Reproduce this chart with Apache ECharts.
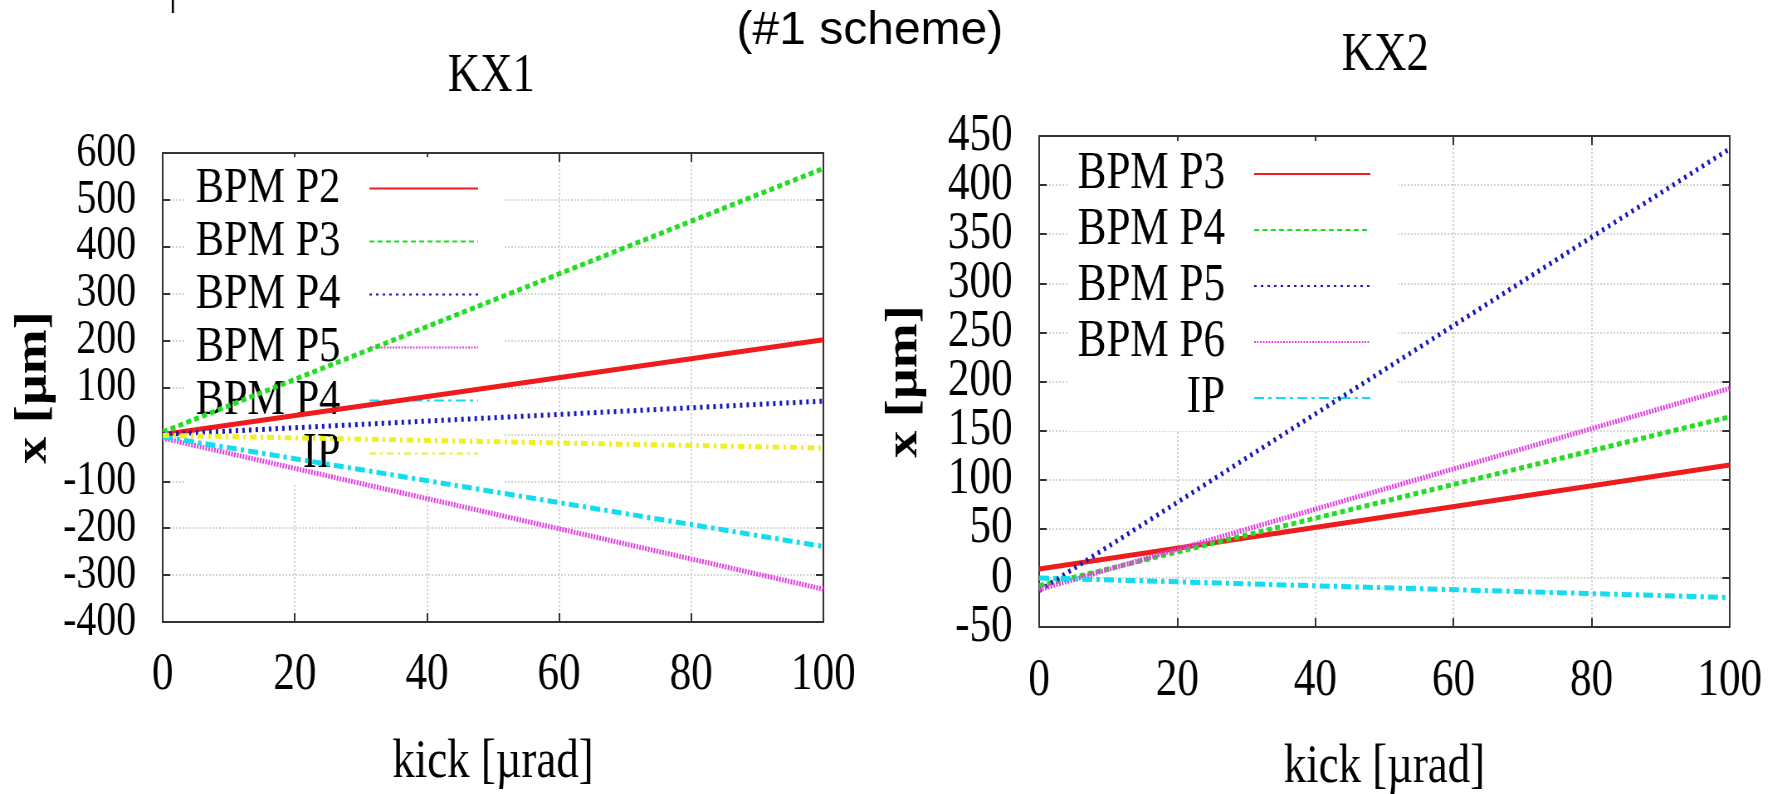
<!DOCTYPE html>
<html>
<head>
<meta charset="utf-8">
<script src="https://cdn.jsdelivr.net/npm/echarts@6/dist/echarts.min.js"></script>
<style>
  html, body { margin: 0; padding: 0; overflow: hidden; background: #fff; }
  /* the source figure is squeezed sideways, so draw wide and squeeze the canvas */
  #chart_wrap { width: 2142px; height: 794px; transform: scaleX(0.83); transform-origin: 0 0; }
</style>
</head>
<body>
<div id="chart_wrap"></div>
<script>
var kick = [0, 100];

// KX1 panel
var kx1Names = ['BPM P2', 'BPM P3', 'BPM P4', 'BPM P5', 'BPM P4', 'IP'];
var kx1P2 = [0, 202];
var kx1P3 = [5, 567];
var kx1P4 = [0, 71];
var kx1P5 = [-8, -330];
var kx1P4b = [-5, -239];
var kx1IP = [-2, -29];

// KX2 panel
var kx2Names = ['BPM P3', 'BPM P4', 'BPM P5', 'BPM P6', 'IP'];
var kx2P3 = [9, 115];
var kx2P4 = [-8, 164];
var kx2P5 = [-13, 437];
var kx2P6 = [-12, 193];
var kx2IP = [0, -20];

var chart = echarts.init(document.getElementById('chart_wrap'));
var serif = 'Liberation Serif';

var RED = '#ee1c1c', GREEN = '#22dd22', BLUE = '#1a1ab8', MAGENTA = '#e040e0', CYAN = '#12dcef', YELLOW = '#efef22';

var labelMap = {};
function mkSeries(id, label, vals, color, dash, axis) {
    labelMap[id] = label;
    return {
        id: id,
        name: id,
        type: 'line',
        xAxisIndex: axis,
        yAxisIndex: axis,
        symbol: 'none',
        data: kick.map(function (k, i) { return [k, vals[i]]; }),
        lineStyle: { color: color, width: 5, type: dash, cap: 'butt' },
        itemStyle: { color: color },
        z: 2
    };
}

var series = [
    mkSeries('a0', kx1Names[0], kx1P2, RED, 'solid', 0),
    mkSeries('a1', kx1Names[1], kx1P3, GREEN, [6, 4], 0),
    mkSeries('a2', kx1Names[2], kx1P4, BLUE, [3, 5], 0),
    mkSeries('a3', kx1Names[3], kx1P5, MAGENTA, [2, 1.5], 0),
    mkSeries('a4', kx1Names[4], kx1P4b, CYAN, [12, 5, 4, 5], 0),
    mkSeries('a5', kx1Names[5], kx1IP, YELLOW, [8, 5, 3, 5], 0),
    mkSeries('b0', kx2Names[0], kx2P3, RED, 'solid', 2),
    mkSeries('b1', kx2Names[1], kx2P4, GREEN, [6, 4], 2),
    mkSeries('b2', kx2Names[2], kx2P5, BLUE, [3, 5], 2),
    mkSeries('b3', kx2Names[3], kx2P6, MAGENTA, [2, 1.5], 2),
    mkSeries('b4', kx2Names[4], kx2IP, CYAN, [12, 5, 4, 5], 2)
];

var gridLine = { show: true, lineStyle: { color: '#c8c8c8', width: 1.5, type: [2, 2] } };
var boxLine = { show: true, onZero: false, lineStyle: { color: '#333', width: 2 } };
var tick = { inside: true, length: 9, lineStyle: { color: '#333', width: 2 } };

function xMain(grid, margin, gap) {
    return {
        type: 'value', gridIndex: grid, min: 0, max: 100, interval: 20, position: 'bottom',
        name: 'kick [µrad]', nameLocation: 'middle', nameGap: gap,
        nameTextStyle: { fontFamily: serif, fontSize: 54, color: '#000' },
        axisLine: boxLine, axisTick: tick,
        axisLabel: { fontFamily: serif, fontSize: 52, color: '#000', margin: margin,
                     showMinLabel: true, showMaxLabel: true, hideOverlap: false },
        splitLine: gridLine
    };
}
function xMirror(grid) {
    return {
        type: 'value', gridIndex: grid, min: 0, max: 100, interval: 20, position: 'top',
        axisLine: boxLine, axisTick: tick,
        axisLabel: { show: false }, splitLine: { show: false }
    };
}
function xHidden(grid) {
    return { type: 'value', gridIndex: grid, min: 0, max: 100, interval: 20, show: false };
}
// inner tick labels; the end labels come from yEnds so nothing gets culled
function yMain(grid, min, max, step, gap, fs) {
    return {
        type: 'value', gridIndex: grid, min: min, max: max, interval: step, position: 'left',
        name: 'x [µm]', nameLocation: 'middle', nameGap: gap, nameRotate: 90,
        nameTextStyle: { fontFamily: serif, fontSize: 54, fontWeight: 'bold', color: '#000' },
        axisLine: boxLine, axisTick: tick,
        axisLabel: { fontFamily: serif, fontSize: fs, color: '#000', margin: 32,
                     showMinLabel: false, showMaxLabel: false, hideOverlap: false },
        splitLine: gridLine
    };
}
function yEnds(grid, min, max, step, fs) {
    return {
        type: 'value', gridIndex: grid, min: min, max: max, interval: step, position: 'left',
        axisLine: { show: false }, axisTick: { show: false }, splitLine: { show: false },
        axisLabel: { fontFamily: serif, fontSize: fs, color: '#000', margin: 32,
                     showMinLabel: true, showMaxLabel: true, hideOverlap: false,
                     formatter: function (v) { return (v === min || v === max) ? String(v) : ''; } }
    };
}
function yMirror(grid, min, max, step) {
    return {
        type: 'value', gridIndex: grid, min: min, max: max, interval: step, position: 'right',
        axisLine: boxLine, axisTick: tick,
        axisLabel: { show: false }, splitLine: { show: false }
    };
}

function legendFor(ids, right, top, lineH, iconW, fontSize, padRight) {
    return {
        data: ids, orient: 'vertical', align: 'right',
        right: right, top: top, itemGap: 0,
        itemWidth: iconW, itemHeight: 14,
        padding: [5, padRight, 5, 12],
        backgroundColor: '#fff',
        z: 1,
        selectedMode: false,
        itemStyle: { opacity: 0 },
        formatter: function (n) { return labelMap[n]; },
        textStyle: { fontFamily: serif, fontSize: fontSize, color: '#000', lineHeight: lineH, padding: [0, 30, 0, 0] }
    };
}

function gridL() { return { left: 196, right: 1150, top: 153, bottom: 172, show: false, outerBoundsMode: 'none' }; }
function gridR() { return { left: 1252, right: 58, top: 136, bottom: 167, show: false, outerBoundsMode: 'none' }; }

var option = {
    animation: false,
    backgroundColor: '#fff',
    title: [
        { text: 'KX1', left: 592, top: 50, textAlign: 'center', padding: 0,
          textStyle: { fontFamily: serif, fontSize: 54, fontWeight: 'normal', color: '#000' } },
        { text: 'KX2', left: 1669, top: 29, textAlign: 'center', padding: 0,
          textStyle: { fontFamily: serif, fontSize: 54, fontWeight: 'normal', color: '#000' } }
    ],
    graphic: [
        { type: 'text', x: 1048, y: 31, scaleX: 1.23,
          style: { text: '(#1 scheme)', font: '47px "Liberation Sans"', fill: '#000', align: 'center', verticalAlign: 'middle' } },
        { type: 'rect', shape: { x: 207, y: 0, width: 2.5, height: 13 }, style: { fill: '#000' } }
    ],
    grid: [gridL(), gridR(), gridL(), gridR()],
    xAxis: [xMain(0, 27, 114), xMirror(0), xMain(1, 28, 114), xMirror(1), xHidden(2), xHidden(3)],
    yAxis: [yMain(0, -400, 600, 100, 128, 48), yMirror(0, -400, 600, 100),
            yMain(1, -50, 450, 50, 135, 52), yMirror(1, -50, 450, 50),
            yEnds(2, -400, 600, 100, 48), yEnds(3, -50, 450, 50, 52)],
    legend: [
        legendFor(['a0', 'a1', 'a2', 'a3', 'a4', 'a5'], 1534, 157, 53, 131, 51, 31),
        legendFor(['b0', 'b1', 'b2', 'b3', 'b4'], 457, 141, 56, 140, 52, 33)
    ],
    series: series
};

chart.setOption(option);
</script>
</body>
</html>
